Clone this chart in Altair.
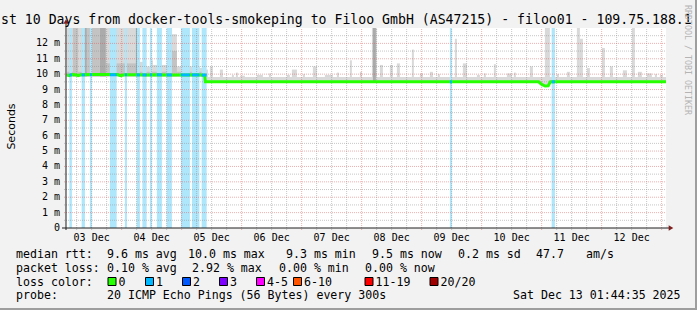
import altair as alt
import pandas as pd

MONO = "DejaVu Sans Mono"
SANS = "DejaVu Sans"

# ---------------- data ----------------
# x = hours after 03 Dec 00:00; window Dec 3 01:44:35 .. Dec 13 01:44:35
window_start_h = 1.743
window_end_h = 241.743
y_max_ms = 13.0

day_label_h = [12, 36, 60, 84, 108, 132, 156, 180, 204, 228]
day_labels = ["03 Dec", "04 Dec", "05 Dec", "06 Dec", "07 Dec",
              "08 Dec", "09 Dec", "10 Dec", "11 Dec", "12 Dec"]
minor_grid_h = [6, 12, 18, 30, 36, 42, 54, 60, 66, 78, 84, 90, 102, 108, 114,
                126, 132, 138, 150, 156, 162, 174, 180, 186, 198, 204, 210,
                222, 228, 234]
major_grid_h = [24, 48, 72, 96, 120, 144, 168, 192, 216, 240]
y_tick_ms = [0, 1, 2, 3, 4, 5, 6, 7, 8, 9, 10, 11, 12]
y_tick_labels = ["0\u00a0\u00a0", "1 m", "2 m", "3 m", "4 m", "5 m", "6 m",
                 "7 m", "8 m", "9 m", "10 m", "11 m", "12 m"]
minor_grid_ms = [0.5, 1.5, 2.5, 3.5, 4.5, 5.5, 6.5, 7.5, 8.5, 9.5, 10.5, 11.5, 12.5]
major_grid_ms = [1, 2, 3, 4, 5, 6, 7, 8, 9, 10, 11, 12]

# smoke (ping spread) blocks: start h, end h, low ms, high ms, shade
# --- light blocks
light_t0 = [2.1, 17.7, 30.5, 33.3, 35.3, 36.5, 42.1, 44.1, 46.1, 48.1, 50.5, 55.3, 57.3,
            57.3, 191.7,
            59.3, 63.3, 68.1, 69.7, 71.3, 78.1, 82.9, 90.1, 92.1, 96.5, 100.5, 105.3, 110.1,
            115.3, 119.3, 124.1, 127.3, 131.3, 134.1, 140.1, 143.3, 147.3, 150.5, 157.3,
            160.5, 166.1, 168.9, 172.9, 178.1, 180.9, 187.3, 193.3, 198.1, 202.1, 206.1,
            207.3, 210.1, 216.1, 219.3, 224.5, 228.1, 230.5, 234.1, 237.3, 239.3]
light_t1 = [8.1, 29.7, 33.3, 35.3, 36.5, 42.1, 44.1, 46.1, 48.1, 50.5, 55.3, 57.3, 58.5,
            241.8, 195.3,
            60.5, 64.5, 68.9, 70.5, 73.3, 80.5, 83.7, 91.3, 94.1, 97.3, 102.1, 108.5, 110.9,
            116.1, 120.1, 126.1, 128.5, 132.5, 135.3, 140.9, 144.5, 148.5, 151.3, 158.1,
            162.1, 167.3, 169.7, 173.7, 180.1, 181.7, 188.5, 195.3, 198.9, 203.3, 207.3,
            208.5, 211.3, 217.3, 220.5, 226.1, 229.3, 232.1, 236.1, 238.1, 240.5]
light_lo = [9.84] * 12 + [9.45, 9.42, 9.2] + [9.45] * 45
light_hi = [13.5, 13.5, 10.8, 10.5, 10.9, 10.6, 13.5, 12.6, 10.5, 11.4, 10.5, 10.4, 10.3,
            9.82, 9.6,
            10.5, 10.3, 9.95, 10.1, 9.9, 9.95, 10.05, 9.95, 10.3, 10.0, 10.5, 9.95, 10.1,
            10.9, 10.15, 13.5, 10.6, 10.6, 10.7, 11.6, 10.05, 10.15, 10.0, 12.3,
            10.7, 9.95, 10.05, 10.65, 10.05, 10.1, 10.5, 13.5, 10.0, 10.15, 13.5,
            12.3, 10.4, 11.7, 10.5, 10.25, 13.5, 10.15, 10.05, 10.0, 9.95]
# --- mid / dark / darker blocks
mid_t0 = [4.5, 10.1, 2.1, 17.7, 44.1]
mid_t1 = [6.6, 15.3, 57.3, 29.7, 46.1]
mid_lo = [9.84, 9.84, 9.86, 9.86, 9.86]
mid_hi = [13.5, 13.5, 10.15, 10.7, 11.5]
dark_t0 = [8.1, 15.3, 124.5]
dark_t1 = [10.1, 17.7, 125.7]
dark_lo = [9.84, 9.84, 9.5]
dark_hi = [13.5, 13.5, 13.5]
darker_t0 = [29.7]
darker_t1 = [30.5]
darker_lo = [9.84]
darker_hi = [13.5]

# median rtt
median_t = [2.1, 3.0, 3.6, 4.4, 6.0, 6.6, 7.6, 12.0, 16.0, 20.0, 22.5, 23.5, 25.0,
            30.0, 34.0, 38.0, 42.0, 46.0, 50.0, 54.0, 57.2, 57.5, 80.0, 120.0, 160.0,
            190.8, 191.8, 193.4, 194.6, 195.5, 196.5, 241.8]
median_ms = [9.95, 9.9, 9.95, 9.97, 9.95, 9.9, 9.96, 9.97, 9.98, 9.97, 9.97, 9.9, 9.96,
             9.96, 9.95, 9.96, 9.95, 9.94, 9.95, 9.96, 9.93, 9.5, 9.5, 9.51, 9.5,
             9.5, 9.36, 9.23, 9.24, 9.5, 9.5, 9.5]

# intervals with 1 lost ping (background + median colour)
loss_t0 = [3.1, 8.0, 11.3, 19.3, 25.3, 30.0, 32.3, 35.3, 38.1, 42.0, 47.7, 52.1, 56.0, 155.3, 196.0]
loss_t1 = [4.1, 9.3, 12.1, 22.0, 26.1, 31.3, 34.0, 36.1, 40.1, 44.1, 51.3, 55.1, 58.0, 156.1, 197.3]
loss_med = [9.95, 9.95, 9.96, 9.96, 9.96, 9.95, 9.95, 9.96, 9.96, 9.95, 9.95, 9.95, 9.94, 9.5, 9.5]

title_text = "st 10 Days from docker-tools-smokeping to Filoo GmbH (AS47215) - filoo01 - 109.75.188.1"
rtt_items = ["median rtt:", "9.6 ms avg", "10.0 ms max", "9.3 ms min", "9.5 ms now",
             "0.2 ms sd", "47.7", "am/s"]
loss_items = ["packet loss:", "0.10 % avg", "2.92 % max", "0.00 % min", "0.00 % now"]
loss_color_labels = ["0", "1", "2", "3", "4-5", "6-10", "11-19", "20/20"]
loss_color_values = ["#26ff00", "#00b8ff", "#0059ff", "#7e00ff", "#ff00ff",
                     "#ff5500", "#ff0000", "#a00000"]
probe_items = ["probe:", "20 ICMP Echo Pings (56 Bytes) every 300s", "Sat Dec 13 01:44:35 2025"]

# ---------------- layout (pixels) ----------------
PL, PT = 66, 28  # plot origin in the page
rtt_x = [16, 107, 188, 286, 372, 458, 536, 586]
loss_x = [16, 107, 192, 279, 365]
box_x = [108, 145.5, 182.5, 219.5, 256.5, 293.5, 365, 430]
probe_x = [16, 107, 513]
row_y = [257.7, 271.7, 285.5, 299.3]

xs = alt.Scale(domain=[window_start_h, window_end_h], nice=False, zero=False)
ys = alt.Scale(domain=[0, y_max_ms], nice=False, zero=False)
one = alt.Data(values=[{}])


def txt(s, x, y, size=11.6, font=MONO, color="black", align="left",
        baseline="alphabetic", angle=None):
    kw = dict(text=s, font=font, fontSize=size, color=color, align=align, baseline=baseline)
    if angle is not None:
        kw["angle"] = angle
    return alt.Chart(one).mark_text(**kw).encode(x=alt.value(x - PL), y=alt.value(y - PT))


def box(x0, x1, y0, y1, fill, stroke=None):
    kw = dict(fill=fill)
    if stroke:
        kw.update(stroke=stroke, strokeWidth=1)
    return alt.Chart(one).mark_rect(**kw).encode(
        x=alt.value(x0 - PL), x2=alt.value(x1 - PL), y=alt.value(y0 - PT), y2=alt.value(y1 - PT))


def smoke_layer(t0, t1, lo, hi, color, first=False):
    df = pd.DataFrame({"t0": t0, "t1": t1, "lo": lo, "hi": hi})
    if first:
        enc = dict(x=alt.X("t0:Q", scale=xs, axis=None), x2="t1:Q",
                   y=alt.Y("lo:Q", scale=ys, axis=None), y2="hi:Q")
    else:
        enc = dict(x="t0:Q", x2="t1:Q", y="lo:Q", y2="hi:Q")
    return alt.Chart(df).mark_rect(clip=True, color=color).encode(**enc)


smoke_light = smoke_layer(light_t0, light_t1, light_lo, light_hi, "#d9d9d9", first=True)
smoke_mid = smoke_layer(mid_t0, mid_t1, mid_lo, mid_hi, "#c3c3c3")
smoke_dark = smoke_layer(dark_t0, dark_t1, dark_lo, dark_hi, "#ababab")
smoke_darker = smoke_layer(darker_t0, darker_t1, darker_lo, darker_hi, "#8f8f8f")

loss_df = pd.DataFrame({"t0": loss_t0, "t1": loss_t1, "med": loss_med})
loss_bg = alt.Chart(loss_df).mark_rect(color="#aee6fc", clip=True).encode(
    x="t0:Q", x2="t1:Q", y=alt.datum(0), y2=alt.datum(y_max_ms))

GRID = dict(strokeDash=[1, 1], strokeWidth=1)
vminor = alt.Chart(pd.DataFrame({"t": minor_grid_h})).mark_rule(
    color="#8f8f8f", opacity=0.5, **GRID).encode(
    x="t:Q", y=alt.datum(-0.13), y2=alt.datum(y_max_ms))
vmajor = alt.Chart(pd.DataFrame({"t": major_grid_h})).mark_rule(
    color="#de4f4f", opacity=0.45, **GRID).encode(
    x="t:Q", y=alt.datum(-0.13), y2=alt.datum(y_max_ms))
hminor = alt.Chart(pd.DataFrame({"v": minor_grid_ms})).mark_rule(
    color="#8f8f8f", opacity=0.5, **GRID).encode(
    y="v:Q", x=alt.datum(window_start_h - 0.8), x2=alt.datum(window_end_h))
hmajor = alt.Chart(pd.DataFrame({"v": major_grid_ms})).mark_rule(
    color="#de4f4f", opacity=0.45, **GRID).encode(
    y="v:Q", x=alt.datum(window_start_h - 0.8), x2=alt.datum(window_end_h))

median = alt.Chart(pd.DataFrame({"t": median_t, "ms": median_ms})).mark_line(
    color="#26ff00", strokeWidth=3, clip=True).encode(x="t:Q", y="ms:Q", order="t:Q")
median_loss = alt.Chart(loss_df).mark_rule(color="#00b8ff", strokeWidth=3).encode(
    x="t0:Q", x2="t1:Q", y="med:Q")

x_axis = alt.Chart(one).mark_rule(color="#1f1f1f", strokeWidth=1).encode(
    x=alt.datum(window_start_h - 1.6), x2=alt.datum(window_end_h + 1.2), y=alt.datum(0))
y_axis = alt.Chart(one).mark_rule(color="#1f1f1f", strokeWidth=1).encode(
    x=alt.datum(window_start_h), y=alt.datum(-0.13), y2=alt.datum(y_max_ms + 0.3))
arrow_r = alt.Chart(one).mark_point(shape="triangle-right", filled=True, color="#801f1f",
                                    size=28, opacity=1).encode(
    x=alt.datum(window_end_h + 2.0), y=alt.datum(0))
arrow_u = alt.Chart(one).mark_point(shape="triangle-up", filled=True, color="#801f1f",
                                    size=28, opacity=1).encode(
    x=alt.datum(window_start_h), y=alt.datum(y_max_ms + 0.42))

x_labels = alt.Chart(pd.DataFrame({"t": day_label_h, "label": day_labels})).mark_text(
    font=MONO, fontSize=10, align="center", baseline="alphabetic", color="black").encode(
    x="t:Q", y=alt.value(240.7 - PT), text="label:N")
y_labels = alt.Chart(pd.DataFrame({"v": y_tick_ms, "label": y_tick_labels})).mark_text(
    font=MONO, fontSize=10, align="right", baseline="middle", color="black").encode(
    x=alt.value(60 - PL), y="v:Q", text="label:N")

layers = [smoke_light, smoke_mid, smoke_dark, smoke_darker, loss_bg,
          vminor, hminor, vmajor, hmajor, median, median_loss,
          x_axis, y_axis, arrow_r, arrow_u, x_labels, y_labels]

layers.append(txt(title_text, 1, 23.7, size=13.2))
layers.append(txt("Seconds", 15, 126.5, size=11, font=SANS, align="center", angle=270))
layers.append(txt("RRDTOOL / TOBI OETIKER", 684.5, 60, size=8.3, color="#b4b4b4",
                  align="center", angle=90))

for s, x in zip(rtt_items, rtt_x):
    layers.append(txt(s, x, row_y[0]))
for s, x in zip(loss_items, loss_x):
    layers.append(txt(s, x, row_y[1]))
layers.append(txt("loss color:", 16, row_y[2]))
for lab, col, bx in zip(loss_color_labels, loss_color_values, box_x):
    layers.append(box(bx, bx + 8, 277.5, 285.5, col, stroke="black"))
    layers.append(txt(lab, bx + 10.5, row_y[2]))
for s, x in zip(probe_items, probe_x):
    layers.append(txt(s, x, row_y[3]))

# frame shading (bottom / right)
layers.append(box(0, 697, 308, 310, "#9e9e9e"))
layers.append(box(695, 697, 0, 310, "#9e9e9e"))

chart = alt.layer(*layers).properties(
    width=600, height=200, background="#f2f2f2",
    padding={"left": PL, "top": PT, "right": 697 - PL - 600, "bottom": 310 - PT - 200},
    autosize=alt.AutoSizeParams(type="none"),
).configure_view(stroke=None, fill="white")

chart.save("out.html", embed_options={"renderer": "svg", "actions": False})
